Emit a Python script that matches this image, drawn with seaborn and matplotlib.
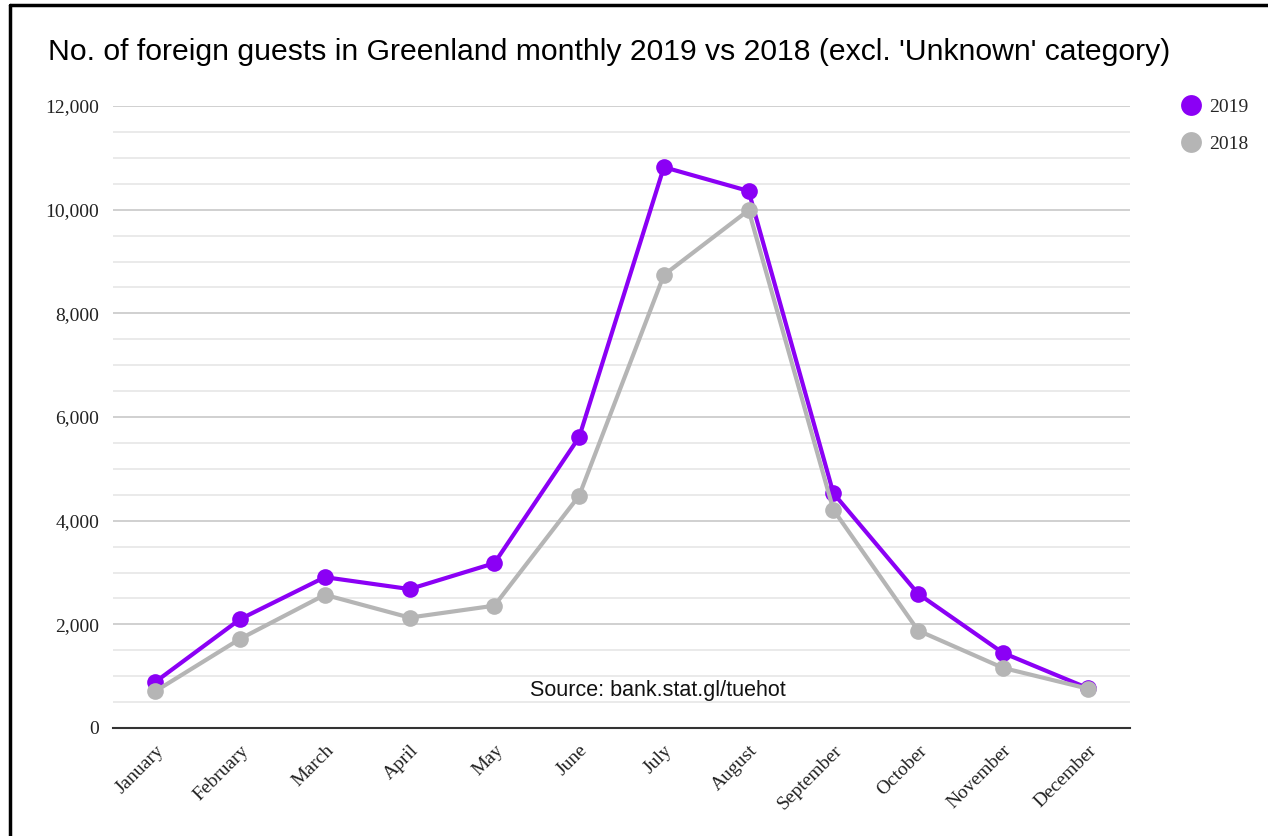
import pandas as pd
import matplotlib.pyplot as plt
import seaborn as sns
from matplotlib.lines import Line2D
from matplotlib.ticker import MultipleLocator, FuncFormatter

# Data
months = ["January", "February", "March", "April", "May", "June",
          "July", "August", "September", "October", "November", "December"]
guests_2019 = [890, 2100, 2910, 2680, 3180, 5610, 10820, 10360, 4530, 2590, 1450, 770]
guests_2018 = [710, 1720, 2570, 2130, 2360, 4480, 8740, 9990, 4210, 1880, 1160, 760]

df = pd.DataFrame({
    "Month": months * 2,
    "Guests": guests_2019 + guests_2018,
    "Year": ["2019"] * 12 + ["2018"] * 12,
})

sns.set_style("white")
plt.rcParams["font.family"] = ["Liberation Serif", "DejaVu Serif"]

fig = plt.figure(figsize=(12.68, 8.36), dpi=100)
ax = fig.add_axes([113 / 1268, 1 - 728 / 836, 1017 / 1268, 622 / 836])

palette = {"2019": "#8b00f5", "2018": "#b5b5b5"}
sns.lineplot(data=df, x="Month", y="Guests", hue="Year", hue_order=["2019", "2018"],
             palette=palette, marker="o", markersize=12, markeredgewidth=0,
             linewidth=3, sort=False, ax=ax, zorder=3)

ax.set_xlim(-0.5, 11.5)
ax.set_ylim(0, 12000)
ax.yaxis.set_major_locator(MultipleLocator(2000))
ax.yaxis.set_minor_locator(MultipleLocator(500))
ax.yaxis.set_major_formatter(FuncFormatter(lambda v, p: f"{int(v):,}"))
ax.grid(which="major", axis="y", color="#c8c8c8", linewidth=1.2)
ax.grid(which="minor", axis="y", color="#e6e6e6", linewidth=1.2)
ax.grid(axis="x", visible=False)
for s in ["top", "right", "left"]:
    ax.spines[s].set_visible(False)
ax.spines["bottom"].set_color("#333333")
ax.spines["bottom"].set_linewidth(1.5)
ax.spines["bottom"].set_zorder(4)
ax.tick_params(axis="both", which="both", length=0, labelsize=14, colors="#222222")
ax.tick_params(axis="y", pad=10)
ax.tick_params(axis="x", pad=10)
plt.setp(ax.get_xticklabels(), rotation=45, ha="right", rotation_mode="anchor")
ax.set_xlabel("")
ax.set_ylabel("")

ax.text(0.536, 0.061, "Source: bank.stat.gl/tuehot", transform=ax.transAxes,
        ha="center", va="center", fontsize=15.5, family=["Liberation Sans", "DejaVu Sans"],
        color="#111111")

leg = ax.legend(loc="upper left", bbox_to_anchor=(1.033, 1.04), frameon=False,
                fontsize=14, handlelength=1.0, handletextpad=0.45, labelspacing=1.0)
for h in leg.legend_handles:
    h.set_linestyle("")
    h.set_markersize(15)

fig.text(48 / 1268, 1 - 52 / 836, "No. of foreign guests in Greenland monthly 2019 vs 2018 (excl. 'Unknown' category)",
         ha="left", va="center", fontsize=21.7, family=["Liberation Sans", "DejaVu Sans"],
         color="#000000")

# frame lines at top and left
fig.add_artist(Line2D([10 / 1268, 1], [1 - 5 / 836, 1 - 5 / 836], transform=fig.transFigure,
                      color="black", linewidth=2.5))
fig.add_artist(Line2D([10 / 1268, 10 / 1268], [0, 1 - 5 / 836], transform=fig.transFigure,
                      color="black", linewidth=2.5))

fig.savefig("out.png", dpi=100, facecolor="white")
